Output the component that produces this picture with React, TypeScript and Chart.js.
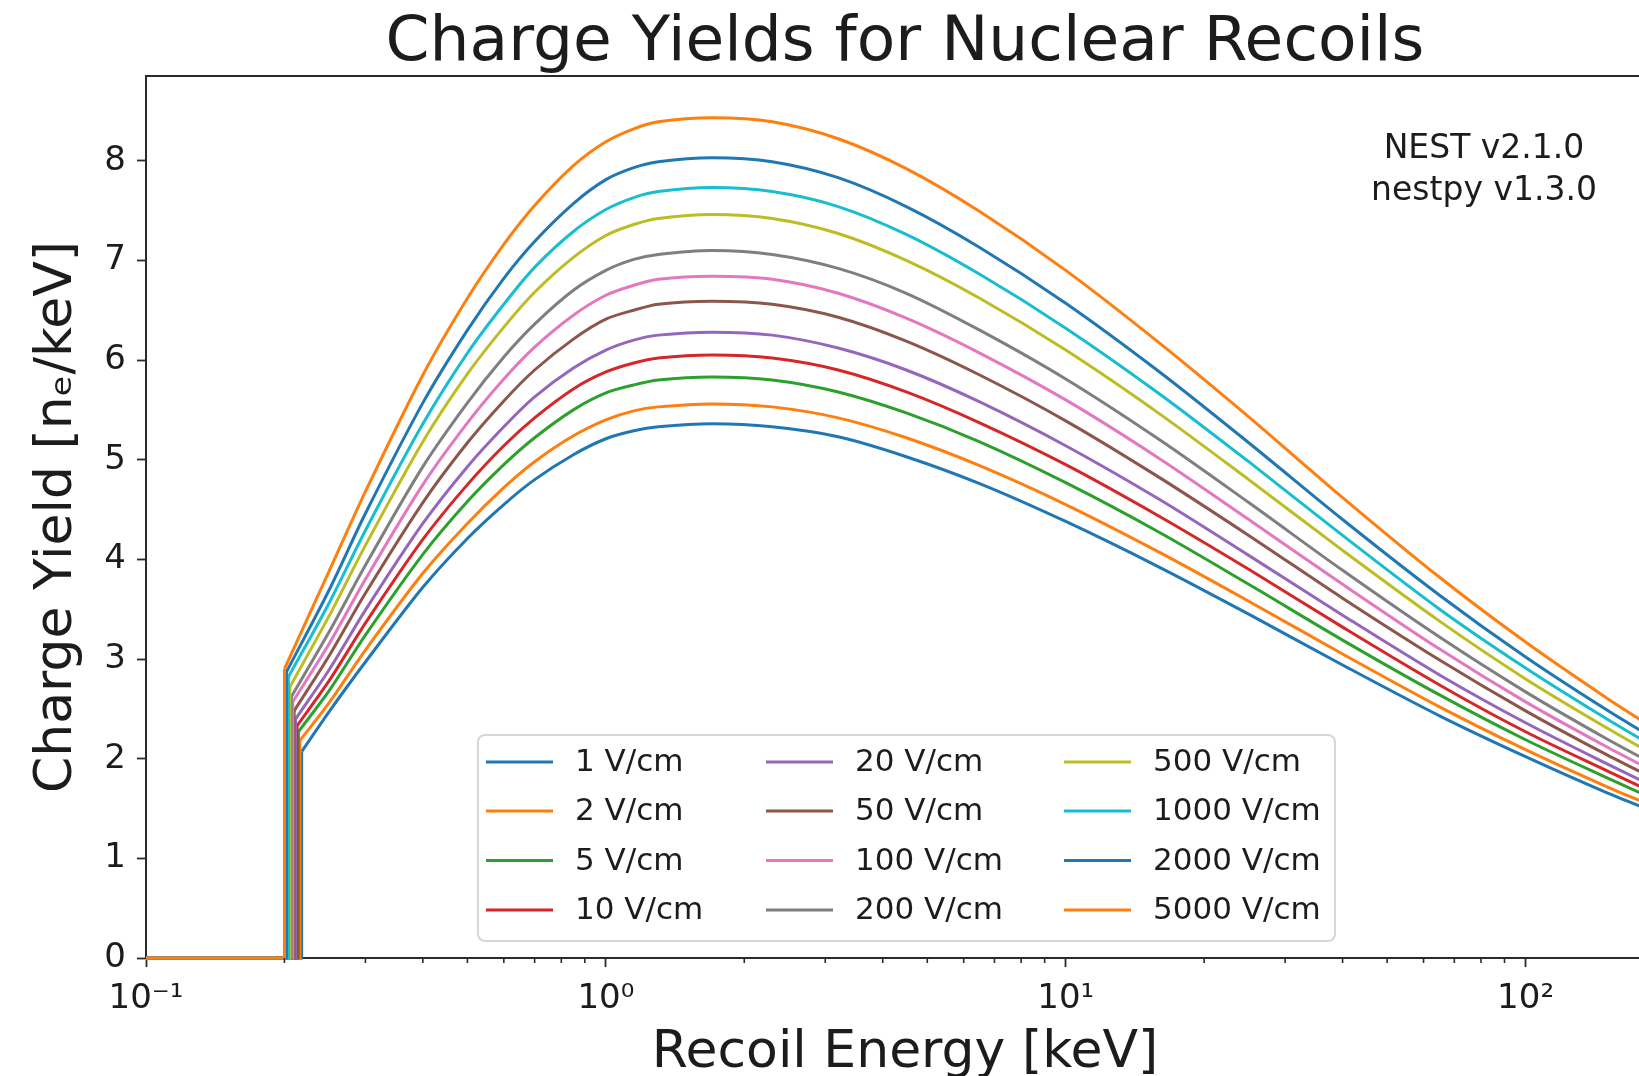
import React, { useEffect, useRef } from "react";
import { Chart, registerables } from "chart.js";

Chart.register(...registerables);

// ---------------- data ----------------
const TITLE = "Charge Yields for Nuclear Recoils";
const X_TITLE = "Recoil Energy [keV]";
const Y_TITLE = "Charge Yield [nₑ/keV]";
const NOTE_LINES = ["NEST v2.1.0", "nestpy v1.3.0"];

const FIELD_LABELS = [
  "1 V/cm", "2 V/cm", "5 V/cm", "10 V/cm",
  "20 V/cm", "50 V/cm", "100 V/cm", "200 V/cm",
  "500 V/cm", "1000 V/cm", "2000 V/cm", "5000 V/cm",
];

const COLORS = [
  "#1f77b4", "#ff7f0e", "#2ca02c", "#d62728",
  "#9467bd", "#8c564b", "#e377c2", "#7f7f7f",
  "#bcbd22", "#17becf", "#1f77b4", "#ff7f0e",
];

// energy where each curve switches on, and the yield at that point
const THRESHOLD_KEV = [0.218, 0.216, 0.2145, 0.213, 0.2115, 0.21, 0.2085, 0.207, 0.2055, 0.204, 0.202, 0.2];
const THRESHOLD_YIELD = [2.07, 2.18, 2.27, 2.33, 2.4, 2.48, 2.57, 2.62, 2.72, 2.82, 2.87, 2.9];
const LOW_EDGE_KEV = 0.1;

const ENERGY_KEV = [0.25, 0.3, 0.4, 0.5, 0.6, 0.7, 0.85, 1.0, 1.15, 1.3, 1.7, 2.3, 3.2, 4.5, 6.5, 10, 16, 25, 40, 65, 100, 150, 200];

const Y_1V = [2.47, 2.97, 3.72, 4.21, 4.55, 4.8, 5.05, 5.21, 5.29, 5.33, 5.36, 5.33, 5.23, 5.03, 4.76, 4.38, 3.92, 3.45, 2.94, 2.43, 2.02, 1.66, 1.43];
const Y_2V = [2.56, 3.09, 3.86, 4.36, 4.72, 4.98, 5.24, 5.4, 5.49, 5.53, 5.56, 5.53, 5.42, 5.22, 4.94, 4.55, 4.07, 3.58, 3.05, 2.52, 2.09, 1.72, 1.48];
const Y_5V = [2.68, 3.24, 4.05, 4.58, 4.95, 5.22, 5.5, 5.67, 5.75, 5.8, 5.83, 5.8, 5.68, 5.47, 5.18, 4.77, 4.27, 3.75, 3.19, 2.64, 2.19, 1.81, 1.55];
const Y_10V = [2.78, 3.36, 4.2, 4.75, 5.14, 5.42, 5.71, 5.88, 5.97, 6.02, 6.05, 6.02, 5.9, 5.68, 5.37, 4.95, 4.43, 3.9, 3.32, 2.74, 2.27, 1.88, 1.61];
const Y_20V = [2.89, 3.49, 4.36, 4.93, 5.33, 5.63, 5.92, 6.1, 6.2, 6.25, 6.28, 6.25, 6.12, 5.9, 5.58, 5.14, 4.6, 4.04, 3.44, 2.84, 2.36, 1.95, 1.67];
const Y_50V = [3.03, 3.66, 4.57, 5.17, 5.59, 5.9, 6.21, 6.41, 6.5, 6.56, 6.59, 6.56, 6.43, 6.19, 5.85, 5.39, 4.82, 4.24, 3.61, 2.99, 2.48, 2.04, 1.75];
const Y_100V = [3.15, 3.8, 4.75, 5.37, 5.81, 6.13, 6.45, 6.65, 6.75, 6.81, 6.84, 6.81, 6.67, 6.42, 6.07, 5.6, 5.01, 4.4, 3.75, 3.1, 2.57, 2.12, 1.82];
const Y_200V = [3.27, 3.94, 4.93, 5.57, 6.03, 6.36, 6.7, 6.9, 7.01, 7.06, 7.1, 7.06, 6.92, 6.67, 6.3, 5.81, 5.2, 4.57, 3.89, 3.22, 2.67, 2.2, 1.89];
const Y_500V = [3.43, 4.14, 5.18, 5.86, 6.33, 6.68, 7.03, 7.25, 7.36, 7.42, 7.46, 7.42, 7.27, 7.0, 6.62, 6.1, 5.46, 4.8, 4.09, 3.38, 2.8, 2.31, 1.98];
const Y_1000V = [3.56, 4.29, 5.36, 6.07, 6.56, 6.93, 7.29, 7.51, 7.63, 7.69, 7.73, 7.69, 7.54, 7.26, 6.86, 6.32, 5.66, 4.98, 4.24, 3.5, 2.91, 2.4, 2.06];
const Y_2000V = [3.69, 4.46, 5.57, 6.3, 6.82, 7.19, 7.57, 7.81, 7.93, 7.99, 8.03, 7.99, 7.83, 7.54, 7.13, 6.57, 5.88, 5.17, 4.4, 3.64, 3.02, 2.49, 2.14];
const Y_5000V = [3.88, 4.68, 5.85, 6.62, 7.16, 7.55, 7.95, 8.19, 8.32, 8.39, 8.43, 8.39, 8.22, 7.92, 7.49, 6.9, 6.17, 5.43, 4.62, 3.82, 3.17, 2.61, 2.24];

const SERIES = [Y_1V, Y_2V, Y_5V, Y_10V, Y_20V, Y_50V, Y_100V, Y_200V, Y_500V, Y_1000V, Y_2000V, Y_5000V];

const X_MIN = 0.1;
const X_MAX = 200;
const Y_MIN = 0;
const Y_MAX = 8.85;

const X_TICK_VALUES = [0.1, 1, 10, 100];
const X_TICK_LABELS = ["10⁻¹", "10⁰", "10¹", "10²"];
const X_MINOR_TICKS = [0.2, 0.3, 0.4, 0.5, 0.6, 0.7, 0.8, 0.9, 2, 3, 4, 5, 6, 7, 8, 9, 20, 30, 40, 50, 60, 70, 80, 90, 200];
const Y_TICK_VALUES = [0, 1, 2, 3, 4, 5, 6, 7, 8];

// ---------------- styling ----------------
const FONT = "'DejaVu Sans', 'Liberation Sans', sans-serif";
const TEXT = "#1c1c1c";
const SPINE = "#2a2a2a";
const CANVAS_W = 1700;
const CANVAS_H = 1100;

const decorPlugin = {
  id: "decor",
  afterDraw(chart: any) {
    const { ctx, chartArea } = chart;
    const xs = chart.scales.x;
    ctx.save();

    // top spine
    ctx.strokeStyle = SPINE;
    ctx.lineWidth = 2;
    ctx.beginPath();
    ctx.moveTo(chartArea.left - 1, chartArea.top);
    ctx.lineTo(chartArea.right, chartArea.top);
    ctx.stroke();

    // minor ticks on the log axis
    ctx.lineWidth = 1.6;
    ctx.beginPath();
    for (const v of X_MINOR_TICKS) {
      const px = xs.getPixelForValue(v);
      if (px < chartArea.left || px > chartArea.right) continue;
      ctx.moveTo(px, chartArea.bottom);
      ctx.lineTo(px, chartArea.bottom + 5);
    }
    ctx.stroke();

    // legend (3 columns x 4 rows, column-major like matplotlib)
    const bx = chartArea.left + 332;
    const by = chartArea.top + 659;
    const bw = 857;
    const bh = 206;
    ctx.beginPath();
    ctx.roundRect(bx, by, bw, bh, 7);
    ctx.fillStyle = "rgba(255,255,255,0.8)";
    ctx.fill();
    ctx.strokeStyle = "#d6d6d6";
    ctx.lineWidth = 2;
    ctx.stroke();

    const colHandle = [8, 288, 586];
    const rowY = [27, 76, 125.5, 175];
    ctx.font = `31px ${FONT}`;
    ctx.textBaseline = "middle";
    ctx.textAlign = "left";
    FIELD_LABELS.forEach((label, i) => {
      const col = Math.floor(i / 4);
      const row = i % 4;
      const hx = bx + colHandle[col];
      const hy = by + rowY[row];
      ctx.strokeStyle = COLORS[i];
      ctx.lineWidth = 3.2;
      ctx.beginPath();
      ctx.moveTo(hx, hy);
      ctx.lineTo(hx + 67, hy);
      ctx.stroke();
      ctx.fillStyle = TEXT;
      ctx.fillText(label, hx + 89, hy + 1);
    });

    // version note
    ctx.font = `33px ${FONT}`;
    ctx.textAlign = "center";
    ctx.textBaseline = "alphabetic";
    ctx.fillStyle = TEXT;
    NOTE_LINES.forEach((line, i) => {
      ctx.fillText(line, chartArea.left + 1338, chartArea.top + 82 + i * 42);
    });

    ctx.restore();
  },
};

export default function App() {
  const canvasRef = useRef<HTMLCanvasElement | null>(null);

  useEffect(() => {
    const canvas = canvasRef.current;
    if (!canvas) return;

    const datasets: any[] = [];
    SERIES.forEach((ys, i) => {
      const order = (SERIES.length - 1 - i) * 2;
      // flat zero section and vertical switch-on
      datasets.push({
        label: FIELD_LABELS[i] + " (threshold)",
        data: [
          { x: LOW_EDGE_KEV, y: 0 },
          { x: THRESHOLD_KEV[i], y: 0 },
          { x: THRESHOLD_KEV[i], y: THRESHOLD_YIELD[i] },
        ],
        borderColor: COLORS[i],
        borderWidth: 3,
        pointRadius: 0,
        tension: 0,
        fill: false,
        clip: false,
        order: order + 1,
      });
      // smooth yield curve
      datasets.push({
        label: FIELD_LABELS[i],
        data: [
          { x: THRESHOLD_KEV[i], y: THRESHOLD_YIELD[i] },
          ...ENERGY_KEV.map((x, j) => ({ x, y: ys[j] })),
        ],
        borderColor: COLORS[i],
        borderWidth: 3,
        pointRadius: 0,
        tension: 0.3,
        fill: false,
        clip: false,
        order,
      });
    });

    const chart = new Chart(canvas, {
      type: "line",
      data: { datasets },
      plugins: [decorPlugin],
      options: {
        responsive: false,
        animation: false,
        devicePixelRatio: 1,
        events: [],
        layout: { padding: { left: 0, top: 0, right: 36, bottom: 0 } },
        plugins: {
          legend: { display: false },
          tooltip: { enabled: false },
          title: {
            display: true,
            text: TITLE,
            fullSize: false,
            color: TEXT,
            font: { family: FONT, size: 63, weight: "normal", lineHeight: 1 },
            padding: { top: 12, bottom: 1 },
          },
        },
        scales: {
          x: {
            type: "logarithmic",
            min: X_MIN,
            max: X_MAX,
            afterBuildTicks: (scale: any) => {
              scale.ticks = X_TICK_VALUES.map((v) => ({ value: v, major: true }));
            },
            afterFit: (scale: any) => {
              scale.height = CANVAS_H - 958;
            },
            ticks: {
              autoSkip: false,
              maxRotation: 0,
              minRotation: 0,
              padding: 12,
              color: TEXT,
              font: { family: FONT, size: 34 },
              callback: (value: any) => {
                const idx = X_TICK_VALUES.findIndex((v) => Math.abs(v - Number(value)) < 1e-9);
                return idx >= 0 ? X_TICK_LABELS[idx] : "";
              },
            },
            grid: {
              drawOnChartArea: false,
              drawTicks: true,
              tickLength: 9,
              tickColor: SPINE,
              tickWidth: 1.8,
            },
            border: { display: true, color: SPINE, width: 2 },
            title: {
              display: true,
              text: X_TITLE,
              color: TEXT,
              font: { family: FONT, size: 52, lineHeight: 1 },
              padding: { top: 0, bottom: 21 },
            },
          },
          y: {
            type: "linear",
            min: Y_MIN,
            max: Y_MAX,
            afterBuildTicks: (scale: any) => {
              scale.ticks = Y_TICK_VALUES.map((v) => ({ value: v }));
            },
            afterFit: (scale: any) => {
              scale.width = 146;
            },
            ticks: {
              padding: 11,
              color: TEXT,
              font: { family: FONT, size: 34 },
              callback: (value: any) => String(value),
            },
            grid: {
              drawOnChartArea: false,
              drawTicks: true,
              tickLength: 9,
              tickColor: SPINE,
              tickWidth: 1.8,
            },
            border: { display: true, color: SPINE, width: 2 },
            title: {
              display: true,
              text: Y_TITLE,
              color: TEXT,
              font: { family: FONT, size: 52, lineHeight: 1 },
              padding: { top: 31, bottom: 0 },
            },
          },
        },
      } as any,
    });

    return () => chart.destroy();
  }, []);

  return (
    <div
      style={{
        position: "fixed",
        left: 0,
        top: 0,
        width: 1639,
        height: 1076,
        overflow: "hidden",
        background: "#ffffff",
      }}
    >
      <canvas
        ref={canvasRef}
        width={CANVAS_W}
        height={CANVAS_H}
        style={{ display: "block", width: CANVAS_W, height: CANVAS_H }}
      />
    </div>
  );
}
